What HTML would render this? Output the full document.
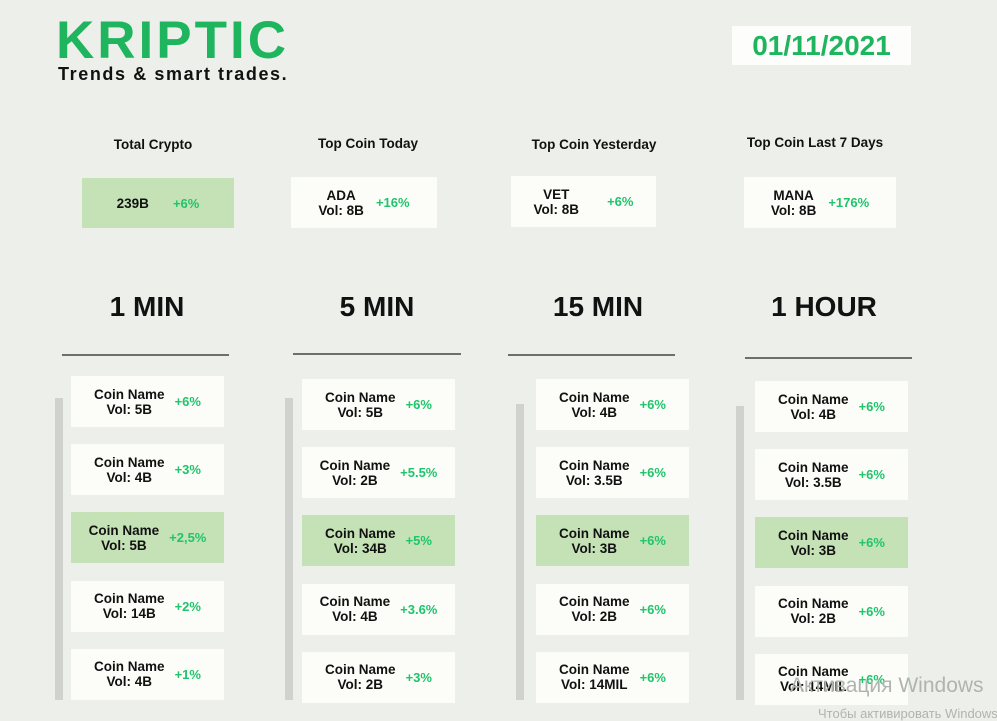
<!DOCTYPE html>
<html><head><meta charset="utf-8"><style>
body{margin:0;width:997px;height:721px;background:#edf0ea;font-family:"Liberation Sans",sans-serif;position:relative;overflow:hidden;color:#111}
.a{position:absolute}
.logo{left:56px;top:10px;font-size:53px;font-weight:bold;color:#1fb55f;letter-spacing:3px}
.tag{left:58px;top:64px;font-size:18px;font-weight:bold;letter-spacing:1.6px}
.date{left:732px;top:26px;width:179px;height:39px;background:#fdfefb;color:#1fb55f;font-size:28px;font-weight:bold;text-align:center;line-height:40px}
.lbl{font-size:13.5px;font-weight:bold;text-align:center;width:200px}
.card{background:#fcfdf9;display:flex;align-items:center;justify-content:center;gap:12px;font-weight:bold;font-size:13.5px;line-height:15px;text-align:center}
.card.hi{background:#c4e2b6}
.pct{color:#1fc46b;font-size:13px}
.ttl{font-size:28px;font-weight:bold;width:200px;text-align:center}
.line{height:2px;background:#6e6e6e}
.bar{width:8px;background:#d0d3cd}
.wm{color:#b0b4b0;white-space:nowrap}
</style></head><body>
<div class="a logo">KRIPTIC</div>
<div class="a tag">Trends &amp; smart trades.</div>
<div class="a date">01/11/2021</div>

<div class="a lbl" style="left:53px;top:137px">Total Crypto</div>
<div class="a card hi" style="left:82px;top:178px;width:152px;height:50px;gap:24px"><span>239B</span><span class="pct">+6%</span></div>
<div class="a lbl" style="left:268px;top:136px">Top Coin Today</div>
<div class="a card" style="left:291px;top:177px;width:146px;height:51px"><span>ADA<br>Vol: 8B</span><span class="pct">+16%</span></div>
<div class="a lbl" style="left:494px;top:137px">Top Coin Yesterday</div>
<div class="a card" style="left:511px;top:176px;width:145px;height:51px;gap:28px"><span>VET<br>Vol: 8B</span><span class="pct">+6%</span></div>
<div class="a lbl" style="left:715px;top:135px">Top Coin Last 7 Days</div>
<div class="a card" style="left:744px;top:177px;width:152px;height:51px"><span>MANA<br>Vol: 8B</span><span class="pct">+176%</span></div>

<div id="cols"></div>
<div class="a wm" style="left:790px;top:674px;font-size:21px">Активация Windows</div>
<div class="a wm" style="left:818px;top:706px;font-size:13px">Чтобы активировать Windows</div>
<script>
const titles=["1 MIN","5 MIN","15 MIN","1 HOUR"];
const vols=[["5B","4B","5B","14B","4B"],["5B","2B","34B","4B","2B"],["4B","3.5B","3B","2B","14MIL"],["4B","3.5B","3B","2B","14MIL"]];
const pcts=[["+6%","+3%","+2,5%","+2%","+1%"],["+6%","+5.5%","+5%","+3.6%","+3%"],["+6%","+6%","+6%","+6%","+6%"],["+6%","+6%","+6%","+6%","+6%"]];
const geo=[{cx:147,lx:62,lw:167,ly:354,bx:55,by:398,cardX:71,cardY:376},{cx:377,lx:293,lw:168,ly:353,bx:285,by:398,cardX:302,cardY:379},{cx:598,lx:508,lw:167,ly:354,bx:516,by:404,cardX:536,cardY:379},{cx:824,lx:745,lw:167,ly:357,bx:736,by:406,cardX:755,cardY:381}];
const root=document.getElementById('cols');
titles.forEach((t,i)=>{const g=geo[i];
 let e=document.createElement('div');e.className='a ttl';e.style.left=(g.cx-100)+'px';e.style.top='291px';e.textContent=t;
 
 root.appendChild(e);
 e=document.createElement('div');e.className='a line';e.style.cssText=`left:${g.lx}px;top:${g.ly}px;width:${g.lw}px`;
 
 root.appendChild(e);
 e=document.createElement('div');e.className='a bar';e.style.cssText=`left:${g.bx}px;top:${g.by}px;height:${700-g.by}px`;
 
 root.appendChild(e);
 vols[i].forEach((v,j)=>{const c=document.createElement('div');
  c.className='a card'+(j==2?' hi':'');c.style.cssText=`left:${g.cardX}px;top:${g.cardY+j*68.2}px;width:153px;height:51px;gap:10px`;
  c.innerHTML=`<span>Coin Name<br>Vol: ${v}</span><span class="pct">${pcts[i][j]}</span>`;
  
  root.appendChild(c);});
});
</script>
</body></html>
